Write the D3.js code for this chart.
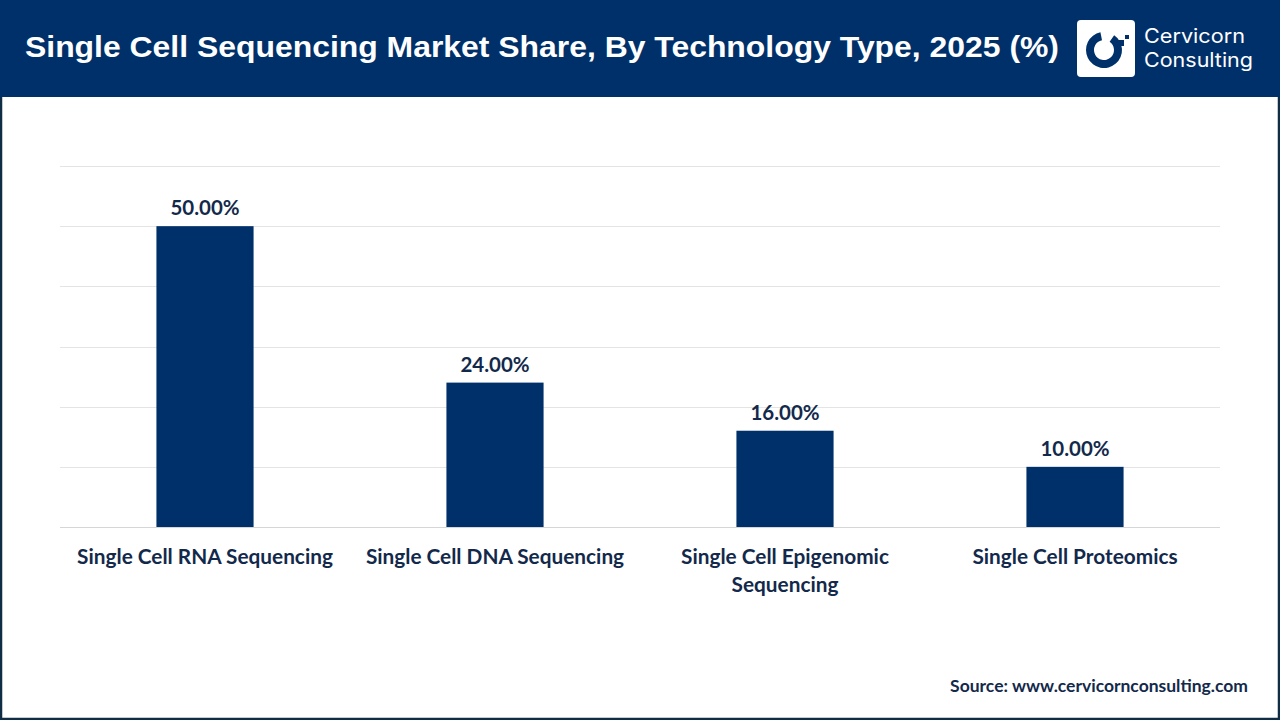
<!DOCTYPE html>
<html><head><meta charset="utf-8">
<script src="https://cdn.jsdelivr.net/npm/d3@7"></script>
<style>
html,body{margin:0;padding:0;background:#fff;}
svg{display:block;}
</style></head>
<body>
<svg id="chart" width="1280" height="720"></svg>
<script>
const categories = [["Single Cell RNA Sequencing"], ["Single Cell DNA Sequencing"], ["Single Cell Epigenomic", "Sequencing"], ["Single Cell Proteomics"]];
const values = [50, 24, 16, 10];
const valueLabels = ["50.00%", "24.00%", "16.00%", "10.00%"];
const gridTicks = [0, 10, 20, 30, 40, 50, 60];

const svg = d3.select("#chart");
const W = 1280, H = 720;
const navy = "#003069";
const textNavy = "#13294b";

// frame
svg.append("rect").attr("x", 0).attr("y", 0).attr("width", W).attr("height", H).attr("fill", "#fff");
svg.append("rect").attr("x", 1).attr("y", 1).attr("width", W - 2).attr("height", H - 2)
  .attr("fill", "none").attr("stroke", "#0f2d45").attr("stroke-width", 2.5);
// header
svg.append("rect").attr("x", 0).attr("y", 0).attr("width", W).attr("height", 97).attr("fill", navy);
svg.append("text").attr("x", 25).attr("y", 57).attr("fill", "#fff")
  .attr("font-family", "Liberation Sans, Arial, sans-serif").attr("font-weight", "bold").attr("font-size", 30)
  .attr("textLength", 1034).attr("lengthAdjust", "spacingAndGlyphs")
  .text("Single Cell Sequencing Market Share, By Technology Type, 2025 (%)");

// logo
const lg = svg.append("g");
lg.append("rect").attr("x", 1077).attr("y", 20).attr("width", 58).attr("height", 57).attr("rx", 4).attr("fill", "#fff");
const arc = d3.arc().innerRadius(10).outerRadius(18).startAngle(0.6).endAngle(2 * Math.PI - 0.2);
lg.append("path").attr("d", arc()).attr("transform", "translate(1104,50)").attr("fill", navy);
lg.append("rect").attr("x", 1117).attr("y", 40).attr("width", 7).attr("height", 6).attr("fill", navy);
lg.append("rect").attr("x", 1125).attr("y", 35).attr("width", 4).attr("height", 4).attr("fill", navy);
lg.append("text").attr("x", 1144).attr("y", 43).attr("fill", "#fff").attr("font-family", "Inter, Roboto, sans-serif")
  .attr("font-size", 19.5).attr("textLength", 101).attr("lengthAdjust", "spacingAndGlyphs").text("Cervicorn");
lg.append("text").attr("x", 1144).attr("y", 67).attr("fill", "#fff").attr("font-family", "Inter, Roboto, sans-serif")
  .attr("font-size", 19.5).attr("textLength", 109).attr("lengthAdjust", "spacingAndGlyphs").text("Consulting");

// scales
const x = d3.scaleBand().domain(d3.range(categories.length)).range([60, 1220]).padding(0);
const y = d3.scaleLinear().domain([0, 60]).range([527, 166]);
const barW = x.bandwidth() * 0.335;

// grid
svg.append("g").selectAll("line").data(gridTicks).join("line")
  .attr("x1", 60).attr("x2", 1220)
  .attr("y1", d => Math.round(y(d)) + 0.5).attr("y2", d => Math.round(y(d)) + 0.5)
  .attr("stroke", d => d === 0 ? "#d6d6d6" : "#e4e4e4").attr("stroke-width", 1);

// bars
svg.append("g").selectAll("rect").data(values).join("rect")
  .attr("x", (d, i) => x(i) + x.bandwidth() / 2 - barW / 2)
  .attr("y", d => y(d)).attr("width", barW).attr("height", d => y(0) - y(d))
  .attr("fill", navy);

const font = "Lato, 'Open Sans', sans-serif";
// value labels
svg.append("g").selectAll("text").data(values).join("text")
  .attr("x", (d, i) => x(i) + x.bandwidth() / 2).attr("y", d => y(d) - 11)
  .attr("text-anchor", "middle").attr("fill", textNavy).attr("font-family", font)
  .attr("font-weight", "bold").attr("font-size", 20.5).text((d, i) => valueLabels[i]);

// category labels
const cg = svg.append("g");
categories.forEach((lines, i) => {
  lines.forEach((ln, j) => {
    cg.append("text").attr("x", x(i) + x.bandwidth() / 2).attr("y", 564 + j * 28)
      .attr("text-anchor", "middle").attr("fill", textNavy).attr("font-family", font)
      .attr("font-weight", "bold").attr("font-size", 20.8).text(ln);
  });
});

// source
svg.append("text").attr("x", 1248).attr("y", 692).attr("text-anchor", "end")
  .attr("fill", textNavy).attr("font-family", font).attr("font-weight", "bold").attr("font-size", 17.5)
  .text("Source: www.cervicornconsulting.com");
</script>
</body></html>
